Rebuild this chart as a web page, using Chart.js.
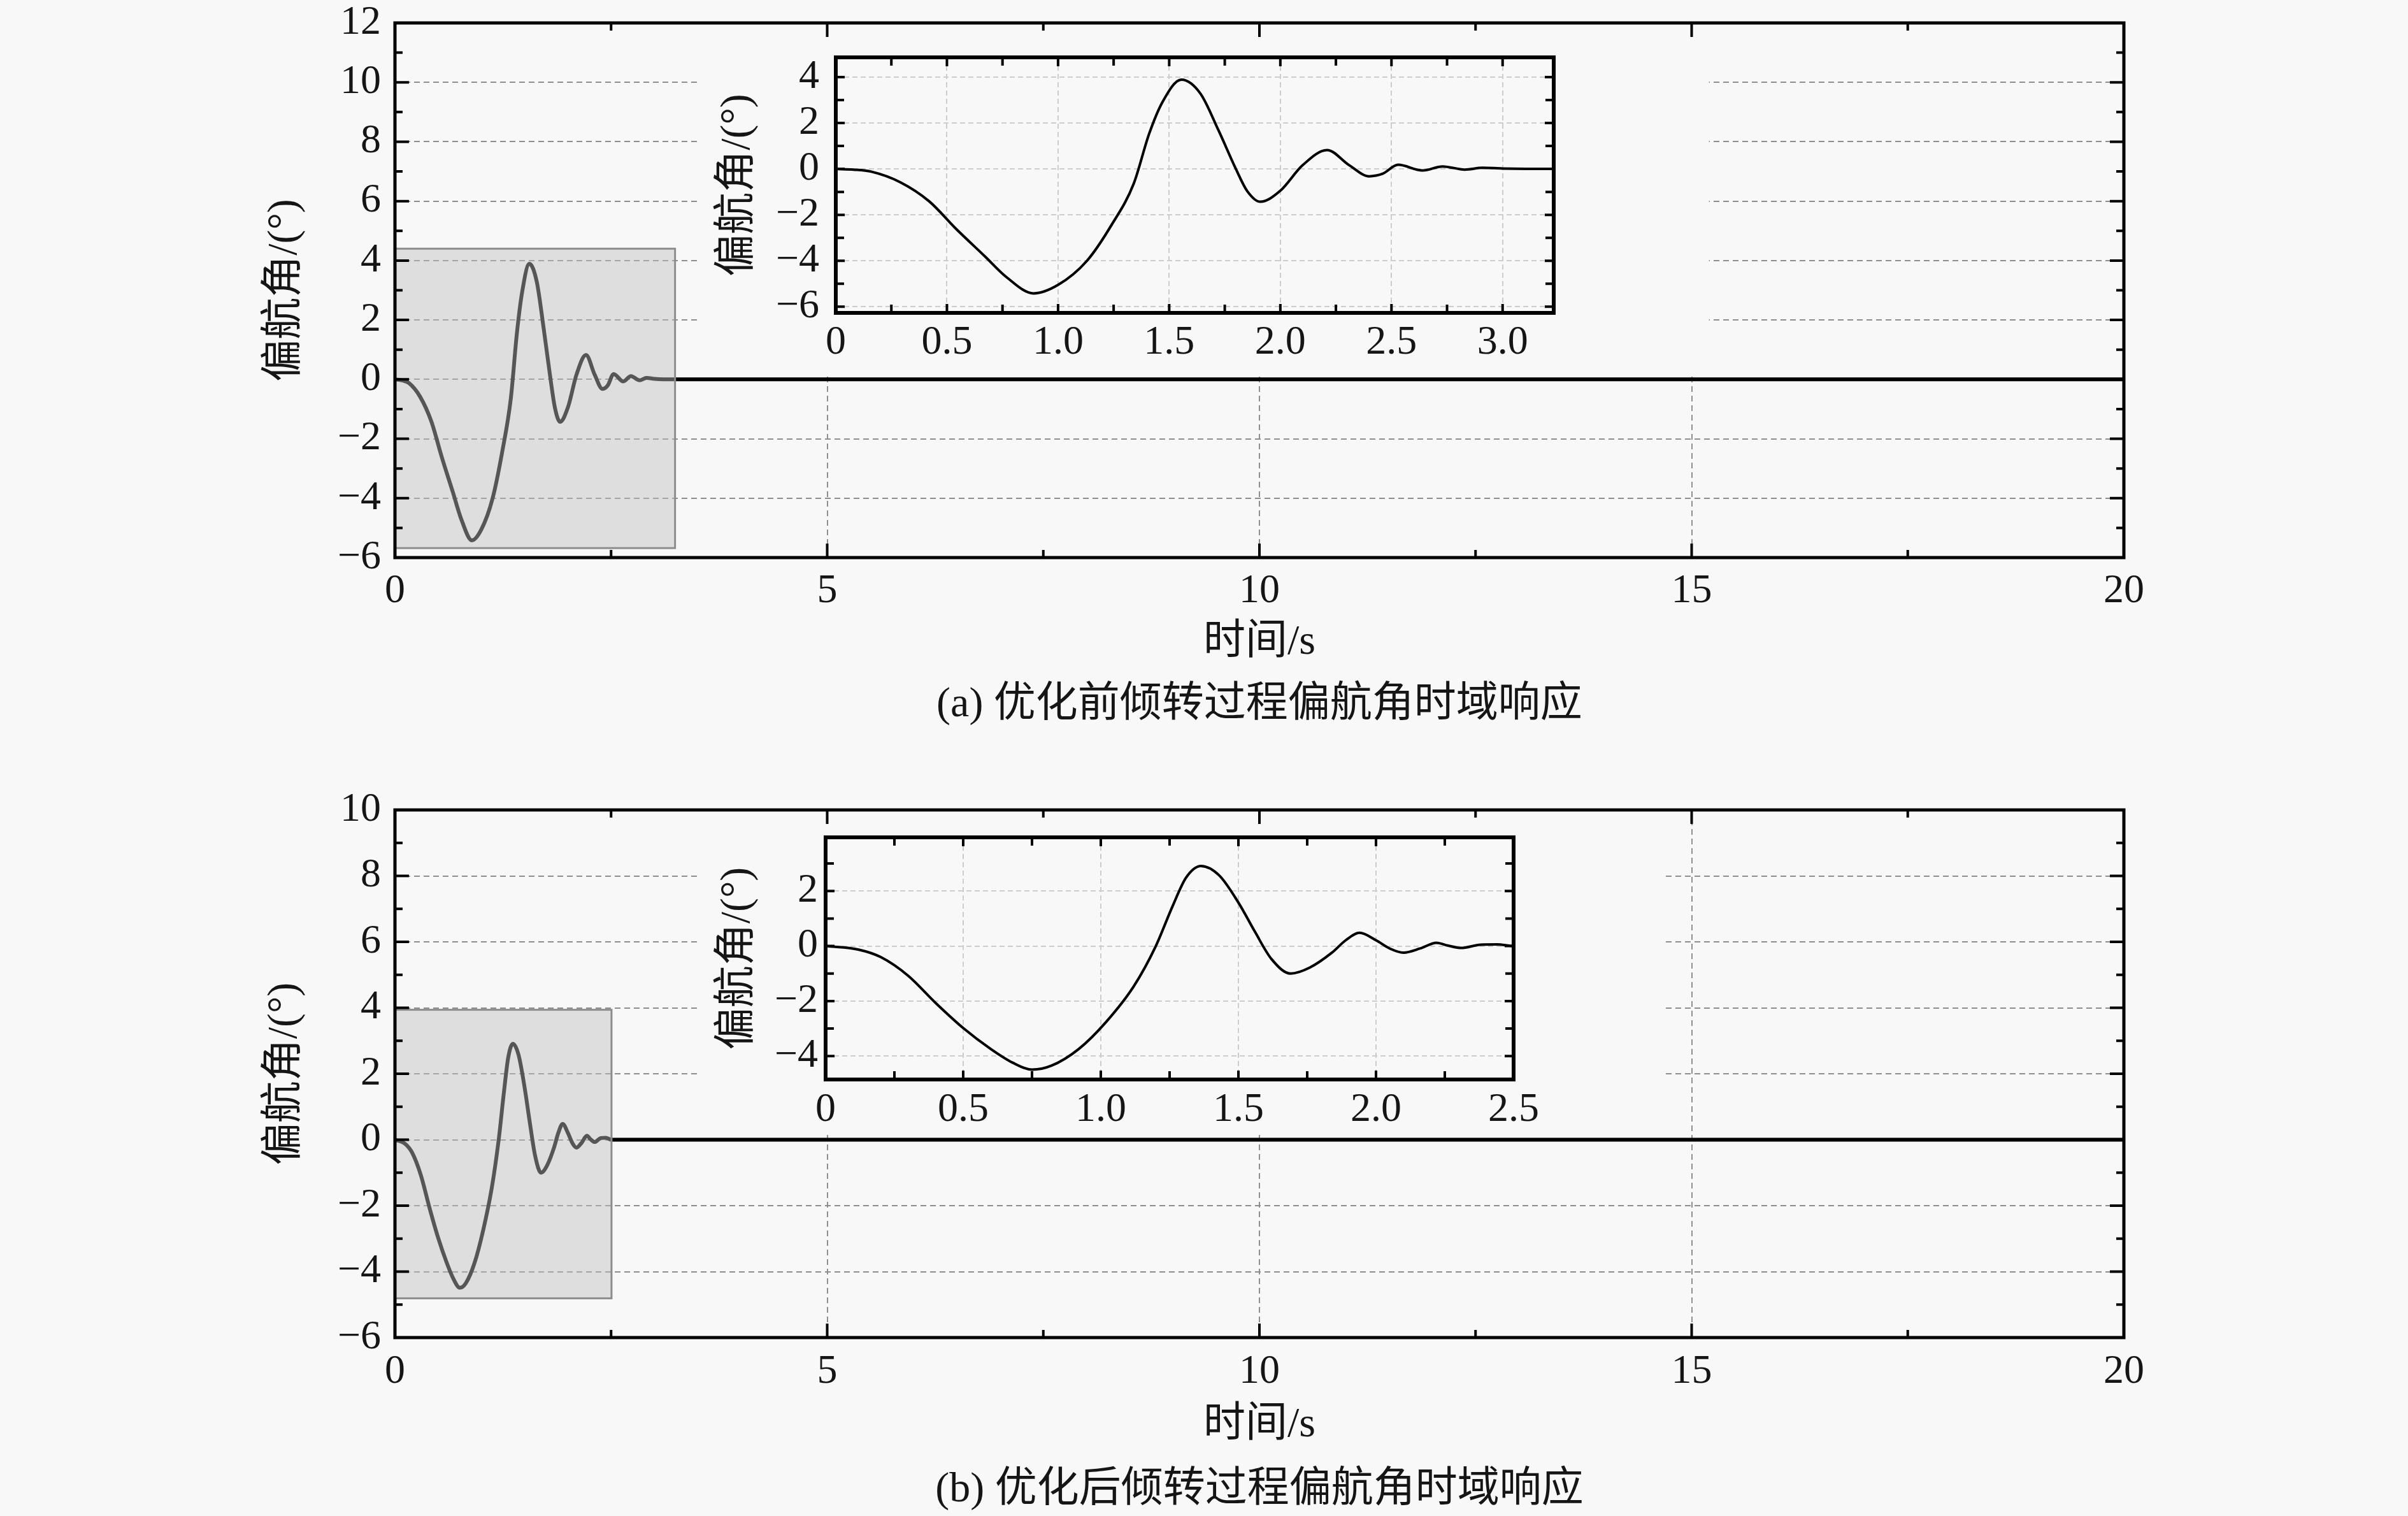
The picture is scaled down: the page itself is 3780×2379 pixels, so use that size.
<!DOCTYPE html>
<html>
<head>
<meta charset="utf-8">
<script src="https://cdn.jsdelivr.net/npm/chart.js@4.4.0/dist/chart.umd.min.js"></script>
<style>
  body {
    margin: 0;
    width: 3780px;
    height: 2379px;
    position: relative;
    overflow: hidden;
    background: #f8f8f8;
  }
  .plot { position: absolute; }
  .caption {
    position: absolute;
    left: 0;
    width: 3954px;
    text-align: center;
    font: 66px "Liberation Serif", "Noto Sans CJK SC", serif;
    color: #151515;
    line-height: 80px;
  }
</style>
</head>
<body>
<div class="plot" id="wrapA" style="left:0;top:0;width:3780px;height:1060px"><canvas id="mainA"></canvas></div>
<div class="plot" id="wrapInsetA" style="left:1100px;top:50px;width:1379px;height:531px"><canvas id="insetA"></canvas></div>
<div class="plot" id="wrapB" style="left:0;top:1235px;width:3780px;height:1060px"><canvas id="mainB"></canvas></div>
<div class="plot" id="wrapInsetB" style="left:1100px;top:1274px;width:1316px;height:510px"><canvas id="insetB"></canvas></div>
<div class="caption" style="top:1062px">(a) 优化前倾转过程偏航角时域响应</div>
<div class="caption" style="top:2294px">(b) 优化后倾转过程偏航角时域响应</div>

<script>
// (a) before optimisation: yaw angle vs time
const timeA = [0, 0.08, 0.16, 0.29, 0.42, 0.54, 0.67, 0.77, 0.89, 1.0, 1.13, 1.24, 1.34, 1.41,
  1.47, 1.555, 1.64, 1.72, 1.80, 1.85, 1.91, 2.0, 2.1, 2.21, 2.31, 2.40, 2.46, 2.53, 2.64,
  2.73, 2.83, 2.91, 3.0, 3.23, 20];
const yawA = [0, -0.03, -0.12, -0.58, -1.41, -2.6, -3.8, -4.73, -5.42, -5.05, -4.0, -2.45, -0.65, 1.54,
  2.92, 3.89, 3.29, 1.72, 0, -0.95, -1.43, -0.95, 0.16, 0.82, 0.16, -0.32, -0.21, 0.18, -0.07,
  0.11, -0.03, 0.05, 0.02, 0, 0];

// (b) after optimisation
const timeB = [0, 0.12, 0.2, 0.3, 0.4, 0.5, 0.6, 0.68, 0.75, 0.82, 0.92, 1.02, 1.12, 1.2, 1.26,
  1.31, 1.364, 1.43, 1.5, 1.56, 1.62, 1.69, 1.76, 1.84, 1.89, 1.94, 2.0, 2.05, 2.1, 2.16, 2.22,
  2.26, 2.31, 2.38, 2.44, 2.5, 20];
const yawB = [0, -0.13, -0.4, -1.08, -2.07, -2.98, -3.74, -4.24, -4.49, -4.35, -3.74, -2.75, -1.46, 0, 1.43,
  2.49, 2.91, 2.57, 1.58, 0.52, -0.47, -1.0, -0.78, -0.24, 0.21, 0.48, 0.21, -0.09, -0.24, -0.09, 0.12,
  0.02, -0.07, 0.05, 0.06, 0, 0];

const xTitle = '时间/s';
const yTitle = '偏航角/(°)';

const BG = '#f8f8f8';
const FONT = '"Liberation Serif", "Noto Sans CJK SC", serif';
const INK = '#151515';

function fmtInt(v) {
  return v < 0 ? '\u2212' + Math.abs(v) : String(v);
}
function fmtDec(v) {
  if (v === 0) return '0';
  return (v < 0 ? '\u2212' : '') + Math.abs(v).toFixed(1);
}

// frame with inward ticks, white-out mask behind the inset, grey zoom box
const framePlugin = {
  id: 'frame',
  beforeDatasetsDraw(chart, args, opts) {
    if (!opts.mask) return;
    const {x, y} = chart.scales;
    const m = opts.mask;
    const ctx = chart.ctx;
    const l = x.getPixelForValue(m.x0);
    const r = x.getPixelForValue(m.x1);
    const t = y.getPixelForValue(m.y1);
    const b = y.getPixelForValue(m.y0);
    ctx.save();
    ctx.fillStyle = BG;
    ctx.fillRect(l, t, r - l, b - t);
    ctx.restore();
  },
  afterDatasetsDraw(chart, args, opts) {
    if (!opts.box) return;
    const {x, y} = chart.scales;
    const m = opts.box;
    const ctx = chart.ctx;
    const l = x.getPixelForValue(m.x0);
    const r = x.getPixelForValue(m.x1);
    const t = y.getPixelForValue(m.y1);
    const b = y.getPixelForValue(m.y0);
    ctx.save();
    ctx.fillStyle = 'rgba(190,190,190,0.45)';
    ctx.fillRect(l, t, r - l, b - t);
    ctx.strokeStyle = '#8c8c8c';
    ctx.lineWidth = 3;
    ctx.strokeRect(l, t, r - l, b - t);
    ctx.restore();
  },
  afterDraw(chart, args, opts) {
    const {x, y} = chart.scales;
    const a = chart.chartArea;
    const ctx = chart.ctx;
    ctx.save();
    ctx.strokeStyle = '#000';
    ctx.lineWidth = opts.tickWidth;
    ctx.beginPath();
    const steps = (scale, minor, major) => {
      const out = [];
      const k0 = Math.ceil(scale.min / minor - 1e-9);
      const k1 = Math.floor(scale.max / minor + 1e-9);
      for (let k = k0; k <= k1; k++) {
        const v = k * minor;
        const isMajor = Math.abs(v / major - Math.round(v / major)) < 1e-6;
        out.push({p: scale.getPixelForValue(v), len: isMajor ? opts.major : opts.minor});
      }
      return out;
    };
    steps(x, opts.xMinor, opts.xMajor).forEach((t) => {
      ctx.moveTo(t.p, a.bottom); ctx.lineTo(t.p, a.bottom - t.len);
      ctx.moveTo(t.p, a.top); ctx.lineTo(t.p, a.top + t.len);
    });
    steps(y, opts.yMinor, opts.yMajor).forEach((t) => {
      ctx.moveTo(a.left, t.p); ctx.lineTo(a.left + t.len, t.p);
      ctx.moveTo(a.right, t.p); ctx.lineTo(a.right - t.len, t.p);
    });
    ctx.stroke();
    ctx.lineWidth = opts.frameWidth;
    ctx.strokeRect(a.left, a.top, a.right - a.left, a.bottom - a.top);
    ctx.restore();
  },
};

function buildChart(id, c) {
  const points = c.times.map((t, i) => ({x: t, y: c.yaws[i]}));
  return new Chart(document.getElementById(id), {
    type: 'line',
    data: {
      datasets: [{
        data: points,
        borderColor: '#000',
        borderWidth: c.lineWidth,
        pointRadius: 0,
        cubicInterpolationMode: 'monotone',
        fill: false,
      }],
    },
    options: {
      responsive: true,
      maintainAspectRatio: false,
      animation: false,
      devicePixelRatio: 1,
      events: [],
      layout: {padding: {left: 0, top: c.padTop, right: c.padRight, bottom: 0}},
      plugins: {
        legend: {display: false},
        tooltip: {enabled: false},
        frame: c.frame,
      },
      scales: {
        x: {
          type: 'linear',
          min: c.xMin,
          max: c.xMax,
          afterFit: (s) => {
            s.height = c.xHeight;
            s.paddingLeft = 0;
            s.paddingRight = 0;
          },
          ticks: {
            stepSize: c.xStep,
            includeBounds: false,
            padding: c.xPad,
            color: INK,
            font: {family: FONT, size: 64},
            maxRotation: 0,
            autoSkip: false,
            callback: c.xFmt,
          },
          grid: {color: c.gridColor, lineWidth: 2, drawTicks: false},
          border: {display: false, dash: c.gridDash},
          title: {
            display: c.showXTitle,
            text: xTitle,
            color: INK,
            font: {family: FONT, size: 66},
            padding: {top: 0, bottom: c.xTitlePad},
          },
        },
        y: {
          type: 'linear',
          min: c.yMin,
          max: c.yMax,
          afterFit: (s) => {
            s.width = c.yWidth;
            s.paddingTop = 0;
            s.paddingBottom = 0;
          },
          ticks: {
            stepSize: c.yStep,
            includeBounds: false,
            padding: c.yPad,
            color: INK,
            font: {family: FONT, size: 64},
            autoSkip: false,
            callback: fmtInt,
          },
          grid: {color: c.gridColor, lineWidth: 2, drawTicks: false},
          border: {display: false, dash: c.gridDash},
          title: {
            display: true,
            text: yTitle,
            color: INK,
            font: {family: FONT, size: 66},
            padding: {top: c.yTitlePad, bottom: 0},
          },
        },
      },
    },
    plugins: [framePlugin],
  });
}

const mainFrame = {tickWidth: 4, frameWidth: 5, major: 22, minor: 12,
  xMinor: 2.5, xMajor: 5, yMinor: 1, yMajor: 2};
const insetFrame = {tickWidth: 4, frameWidth: 6, major: 14, minor: 13,
  xMinor: 0.25, xMajor: 0.5, yMinor: 1, yMajor: 2};

buildChart('mainA', {
  times: timeA, yaws: yawA, lineWidth: 6,
  xMin: 0, xMax: 20, xStep: 5, yMin: -6, yMax: 12, yStep: 2,
  padTop: 36, padRight: 446, xHeight: 185, yWidth: 620,
  xPad: 15, yPad: 22, xTitlePad: 12, yTitlePad: 407.6, showXTitle: true,
  xFmt: fmtInt, gridColor: '#8e8e8e', gridDash: [9, 6],
  frame: Object.assign({
    mask: {x0: 3.5, x1: 15.2, y0: 0.2, y1: 12},
    box: {x0: 0, x1: 3.24, y0: -5.68, y1: 4.4},
  }, mainFrame),
});

buildChart('insetA', {
  times: timeA, yaws: yawA, lineWidth: 4,
  xMin: 0, xMax: 3.23, xStep: 0.5, yMin: -6.27, yMax: 4.86, yStep: 2,
  padTop: 40, padRight: 40, xHeight: 90, yWidth: 212,
  xPad: 9, yPad: 26, xTitlePad: 0, yTitlePad: 18.6, showXTitle: false,
  xFmt: fmtDec, gridColor: '#cdcdcd', gridDash: [8, 5],
  frame: insetFrame,
});

buildChart('mainB', {
  times: timeB, yaws: yawB, lineWidth: 6,
  xMin: 0, xMax: 20, xStep: 5, yMin: -6, yMax: 10, yStep: 2,
  padTop: 36, padRight: 446, xHeight: 196, yWidth: 620,
  xPad: 16, yPad: 22, xTitlePad: 19, yTitlePad: 407.6, showXTitle: true,
  xFmt: fmtInt, gridColor: '#8e8e8e', gridDash: [9, 6],
  frame: Object.assign({
    mask: {x0: 3.5, x1: 14.7, y0: 0.15, y1: 10},
    box: {x0: 0, x1: 2.505, y0: -4.81, y1: 3.94},
  }, mainFrame),
});

buildChart('insetB', {
  times: timeB, yaws: yawB, lineWidth: 4,
  xMin: 0, xMax: 2.5, xStep: 0.5, yMin: -4.85, yMax: 3.95, yStep: 2,
  padTop: 40, padRight: 40, xHeight: 90, yWidth: 196,
  xPad: 10, yPad: 12, xTitlePad: 0, yTitlePad: 18.6, showXTitle: false,
  xFmt: fmtDec, gridColor: '#cdcdcd', gridDash: [8, 5],
  frame: insetFrame,
});
</script>
</body>
</html>
